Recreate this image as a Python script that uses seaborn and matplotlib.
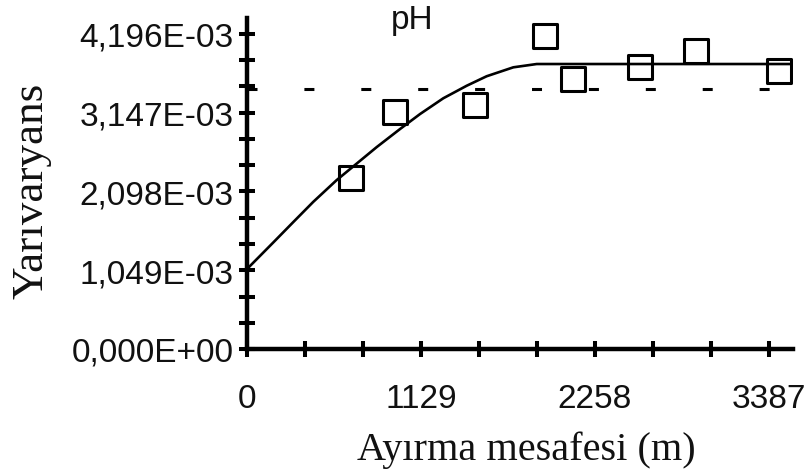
import matplotlib
matplotlib.use("Agg")
import matplotlib.pyplot as plt
import seaborn as sns
import pandas as pd
from matplotlib.ticker import FixedLocator, FixedFormatter

# ---- data ----
lag_distance = [677, 962, 1480, 1931, 2115, 2548, 2916, 3452]
semivariance = [2.278e-3, 3.157e-3, 3.246e-3, 4.169e-3, 3.593e-3, 3.752e-3, 3.970e-3, 3.707e-3]

model_x = [0, 171, 300, 430, 582, 712, 842, 993, 1123, 1274, 1426, 1555, 1728, 1880, 3530]
model_y = [1.065e-3, 1.42e-3, 1.69e-3, 1.96e-3, 2.25e-3, 2.47e-3, 2.69e-3, 2.93e-3,
           3.13e-3, 3.34e-3, 3.507e-3, 3.633e-3, 3.752e-3, 3.796e-3, 3.796e-3]

sample_variance = 3.463e-3

x_major = [0, 1129, 2258, 3387]
x_major_labels = ["0", "1129", "2258", "3387"]
x_minor = [376.33, 752.67, 1505.33, 1881.67, 2634.33, 3010.67]

y_major = [0.0, 1.049e-3, 2.098e-3, 3.147e-3, 4.196e-3]
y_major_labels = ["0,000E+00", "1,049E-03", "2,098E-03", "3,147E-03", "4,196E-03"]
y_minor = [0.3497e-3, 0.6993e-3, 1.3987e-3, 1.7483e-3, 2.4477e-3, 2.7973e-3,
           3.4967e-3, 3.8463e-3]

title = "pH"
x_label = "Ayırma mesafesi (m)"
y_label = "Yarıvaryans"

# ---- figure ----
sns.set_style("white")
plt.rcParams["font.family"] = ["Liberation Sans", "DejaVu Sans"]
plt.rcParams["lines.scale_dashes"] = False

W, H = 806, 477
fig = plt.figure(figsize=(W / 100, H / 100), dpi=100)
ax = fig.add_axes([247 / W, (H - 350) / H, 546 / W, 331 / H])

pts = pd.DataFrame({"x": lag_distance, "y": semivariance})
model = pd.DataFrame({"x": model_x, "y": model_y})

sns.scatterplot(data=pts, x="x", y="y", marker="s", s=300, facecolor="none",
                edgecolor="black", linewidth=2.2, ax=ax, zorder=3)
sns.lineplot(data=model, x="x", y="y", color="black", linewidth=1.9, ax=ax,
             sort=False, estimator=None, zorder=4)
ax.axhline(sample_variance, color="black", linewidth=2.2, dashes=(7.2, 33.77), zorder=2)

ax.set_xlim(0, 3543)
ax.set_ylim(0, 4.409e-3)

for s in ["top", "right"]:
    ax.spines[s].set_visible(False)
for s in ["left", "bottom"]:
    ax.spines[s].set_linewidth(3.2)
    ax.spines[s].set_color("black")

ax.xaxis.set_major_locator(FixedLocator(x_major))
ax.xaxis.set_major_formatter(FixedFormatter(x_major_labels))
ax.xaxis.set_minor_locator(FixedLocator(x_minor))
ax.yaxis.set_major_locator(FixedLocator(y_major))
ax.yaxis.set_major_formatter(FixedFormatter(y_major_labels))
ax.yaxis.set_minor_locator(FixedLocator(y_minor))

ax.tick_params(which="both", bottom=True, left=True, top=False, right=False,
               direction="inout", length=11.5, width=2.9, color="black")
ax.tick_params(axis="x", which="major", labelsize=24, pad=19, labelcolor="#111111")
ax.tick_params(axis="y", which="major", labelsize=24, pad=4, labelcolor="#111111")

serif = ["Liberation Serif", "DejaVu Serif"]
ax.set_xlabel(x_label, fontsize=29, family=serif, color="#111111")
ax.set_ylabel(y_label, fontsize=32.5, family=serif, color="#111111")
ax.xaxis.set_label_coords(0.511, -0.246)
ax.yaxis.set_label_coords(-0.358, 0.48)

fig.text(412 / W, 1 - 20 / H, title, ha="center", va="center", fontsize=24, color="#111111")

fig.savefig("out.png", dpi=100)
